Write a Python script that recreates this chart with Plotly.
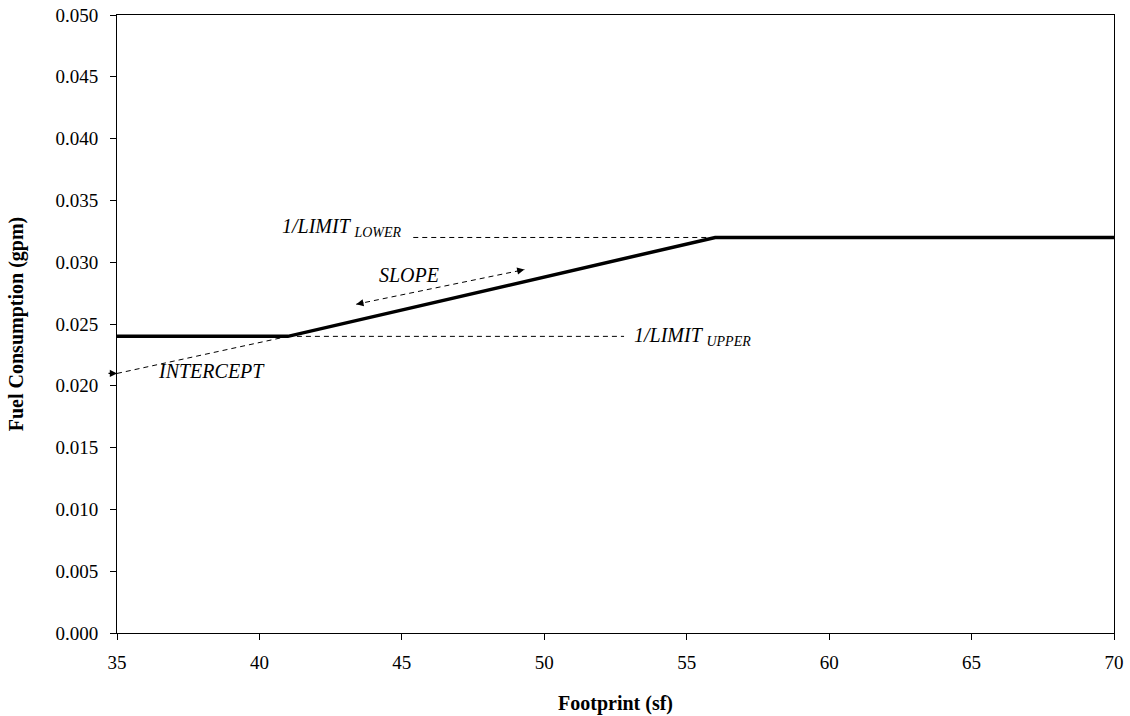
import plotly.graph_objects as go

# Main curve
footprint = [35, 41, 56, 70]
fuel_gpm = [0.024, 0.024, 0.032, 0.032]

# Reference (dashed) lines
intercept_x = [35, 41]
intercept_y = [0.021, 0.024]
upper_x = [41, 52.8]
upper_y = [0.024, 0.024]
lower_x = [45.4, 56]
lower_y = [0.032, 0.032]

# Slope double arrow end points
slope_x = [43.4, 49.3]
slope_y = [0.0266, 0.0294]

x_ticks = [35, 40, 45, 50, 55, 60, 65, 70]
y_ticks = [0.000, 0.005, 0.010, 0.015, 0.020, 0.025, 0.030, 0.035, 0.040, 0.045, 0.050]

FONT = "Liberation Serif, Times New Roman, serif"

fig = go.Figure()
dash_style = dict(color="black", width=1, dash="5px,4px")
for xs, ys in [(intercept_x, intercept_y), (upper_x, upper_y), (lower_x, lower_y)]:
    fig.add_trace(go.Scatter(x=xs, y=ys, mode="lines", line=dash_style,
                             showlegend=False, hoverinfo="skip"))
fig.add_trace(go.Scatter(x=slope_x, y=slope_y, mode="lines", line=dash_style,
                         showlegend=False, hoverinfo="skip"))
fig.add_trace(go.Scatter(x=footprint, y=fuel_gpm, mode="lines",
                         line=dict(color="black", width=3.5), showlegend=False,
                         hoverinfo="x+y"))

# arrow heads
arrow_common = dict(showarrow=True, arrowhead=2, arrowsize=1.2, arrowwidth=1.2,
                    arrowcolor="black", text="", xref="x", yref="y", axref="x", ayref="y")
dslope = (slope_y[1] - slope_y[0]) / (slope_x[1] - slope_x[0])
fig.add_annotation(x=slope_x[0], y=slope_y[0], ax=slope_x[0] + 0.3,
                   ay=slope_y[0] + 0.3 * dslope, **arrow_common)
fig.add_annotation(x=slope_x[1], y=slope_y[1], ax=slope_x[1] - 0.3,
                   ay=slope_y[1] - 0.3 * dslope, **arrow_common)
fig.add_annotation(x=intercept_x[0], y=intercept_y[0], ax=-10, ay=0, text="",
                   showarrow=True, arrowhead=2, arrowsize=1.2, arrowwidth=1.2,
                   arrowcolor="black", xref="x", yref="y")

text_font = dict(family=FONT, size=20, color="black")
fig.add_annotation(x=45.07, y=0.03277, text="<i>1/LIMIT <sub>LOWER</sub></i>",
                   showarrow=False, xanchor="right", yanchor="middle", font=text_font)
fig.add_annotation(x=53.08, y=0.0240, text="<i>1/LIMIT <sub>UPPER</sub></i>",
                   showarrow=False, xanchor="left", yanchor="middle", font=text_font)
fig.add_annotation(x=45.25, y=0.0290, text="<i>SLOPE</i>", showarrow=False,
                   xanchor="center", yanchor="middle", font=text_font)
fig.add_annotation(x=36.37, y=0.0212, text="<i>INTERCEPT</i>", showarrow=False,
                   xanchor="left", yanchor="middle", font=text_font)

fig.update_layout(
    width=1130, height=716,
    margin=dict(l=117, r=16, t=15, b=83),
    paper_bgcolor="white", plot_bgcolor="white",
    font=dict(family=FONT, color="black"),
    xaxis=dict(range=[35, 70], tickvals=x_ticks, ticktext=[str(v) for v in x_ticks],
               showgrid=False, zeroline=False, showline=True, linecolor="black", linewidth=1,
               mirror=True, ticks="outside", ticklen=6, tickcolor="black",
               ticklabelstandoff=6, ticklabeloverflow="allow", automargin=False,
               tickfont=dict(family=FONT, size=19),
               title=dict(text="<b>Footprint (sf)</b>", font=dict(family=FONT, size=20), standoff=24)),
    yaxis=dict(range=[0, 0.05], tickvals=y_ticks, ticktext=[f"{v:.3f}" for v in y_ticks],
               showgrid=False, zeroline=False, showline=True, linecolor="black", linewidth=1,
               mirror=True, ticks="outside", ticklen=6, tickcolor="black",
               ticklabelstandoff=8, ticklabeloverflow="allow", automargin=False,
               tickfont=dict(family=FONT, size=19),
               title=dict(text="<b>Fuel Consumption (gpm)</b>", font=dict(family=FONT, size=20), standoff=26)),
)

fig.write_html("out.html", config={"displayModeBar": False},
               post_script="document.body.style.margin='0';document.body.style.overflow='hidden';")
